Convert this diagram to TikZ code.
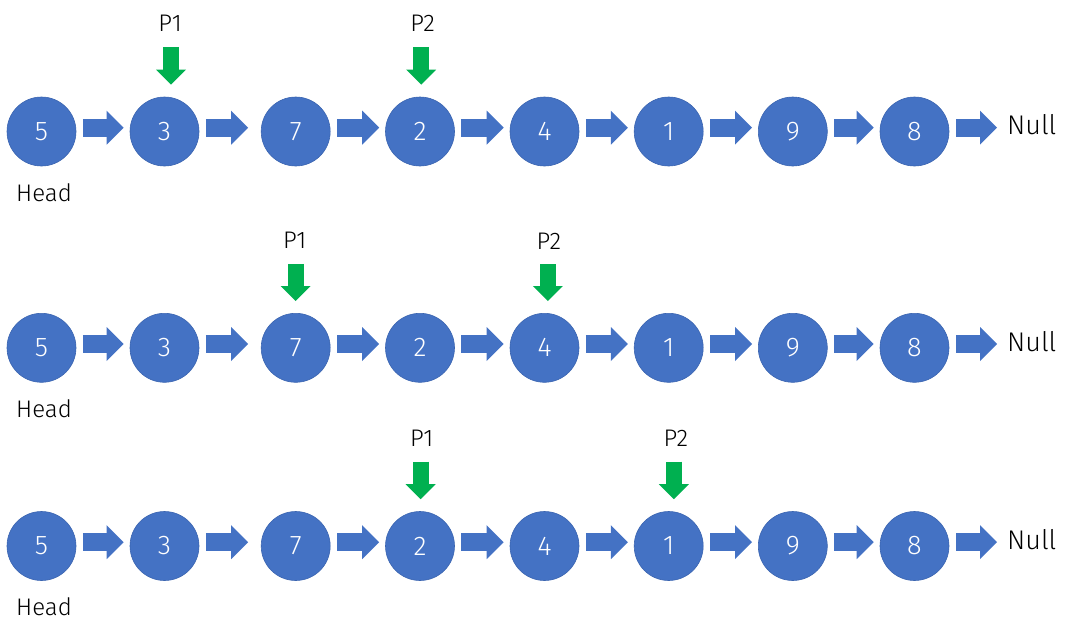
\documentclass[tikz,border=0pt]{standalone}
\usepackage{fontspec}
\setmainfont{Fira Sans}[UprightFont={* Light}]
\usetikzlibrary{arrows.meta}
\definecolor{nblue}{HTML}{4472C4}
\definecolor{nedge}{HTML}{3A64B0}
\definecolor{pgreen}{HTML}{00B050}
\tikzset{
  nd/.style={circle, fill=nblue, draw=nedge, line width=0.6pt, minimum size=69pt, inner sep=0pt, text=white, font=\fontsize{27}{27}\selectfont},
  lbl/.style={inner sep=0pt, font=\fontsize{24}{24}\selectfont},
  headlbl/.style={inner sep=0pt, font=\fontsize{24}{24}\selectfont},
  nul/.style={inner sep=0pt, anchor=west, font=\fontsize{27}{27}\selectfont},
  link/.style={line width=18pt, draw=nblue, -{Triangle[width=34pt,length=17pt,line width=0pt]}, shorten <=6.5pt, shorten >=6pt},
  ptr/.style={line width=16pt, draw=pgreen, -{Triangle[width=30pt,length=15pt,line width=0pt]}, shorten <=15pt, shorten >=12pt},
}
\begin{document}
\begin{tikzpicture}[x=1pt,y=-1pt]
\useasboundingbox (0,0) rectangle (1080,635);
\foreach \r/\y in {a/131.5,b/347.8,c/546}{
  \foreach \i/\x/\v in {1/41.5/5,2/164.5/3,3/295.7/7,4/420/2,5/544.5/4,6/668.7/1,7/792.8/9,8/914.5/8}{
    \node[nd] (\r\i) at (\x,\y) {\v};
  }
  \foreach \i/\j in {1/2,3/4,4/5,5/6,6/7,7/8}{
    \draw[link] ([yshift=3.8pt]\r\i.east) -- ([yshift=3.8pt]\r\j.west);
  }
  \draw[link, shorten >=12.7pt] ([yshift=3.8pt]\r2.east) -- ([yshift=3.8pt]\r3.west);
  \node[nul] (null\r) at (1007,\y-6.5) {Null};
  \draw[link, shorten <=7pt, shorten >=10pt] ([yshift=3.8pt]\r8.east) -- ([yshift=3.8pt]\r8.east -| null\r.west);
  \node[headlbl] (head\r) at (44,\y+61) {Head};
}
% pointers
\node[lbl] (pa1) at (170,23.5) {P1};
\node[lbl] (pa2) at (422.7,23.5) {P2};
\node[lbl] (pb1) at (294.7,240.5) {P1};
\node[lbl] (pb2) at (548.8,240.8) {P2};
\node[lbl] (pc1) at (421.7,438.3) {P1};
\node[lbl] (pc2) at (675.8,438.3) {P2};
\draw[ptr] ([xshift=1pt]pa1.south) -- ([xshift=1pt]pa1.south |- a2.north);
\draw[ptr] ([xshift=-1.5pt]pa2.south) -- ([xshift=-1.5pt]pa2.south |- a4.north);
\draw[ptr] ([xshift=1pt]pb1.south) -- ([xshift=1pt]pb1.south |- b3.north);
\draw[ptr] ([xshift=-1pt]pb2.south) -- ([xshift=-1pt]pb2.south |- b5.north);
\draw[ptr] ([xshift=-1pt]pc1.south) -- ([xshift=-1pt]pc1.south |- c4.north);
\draw[ptr] ([xshift=-2pt]pc2.south) -- ([xshift=-2pt]pc2.south |- c6.north);
\end{tikzpicture}
\end{document}
